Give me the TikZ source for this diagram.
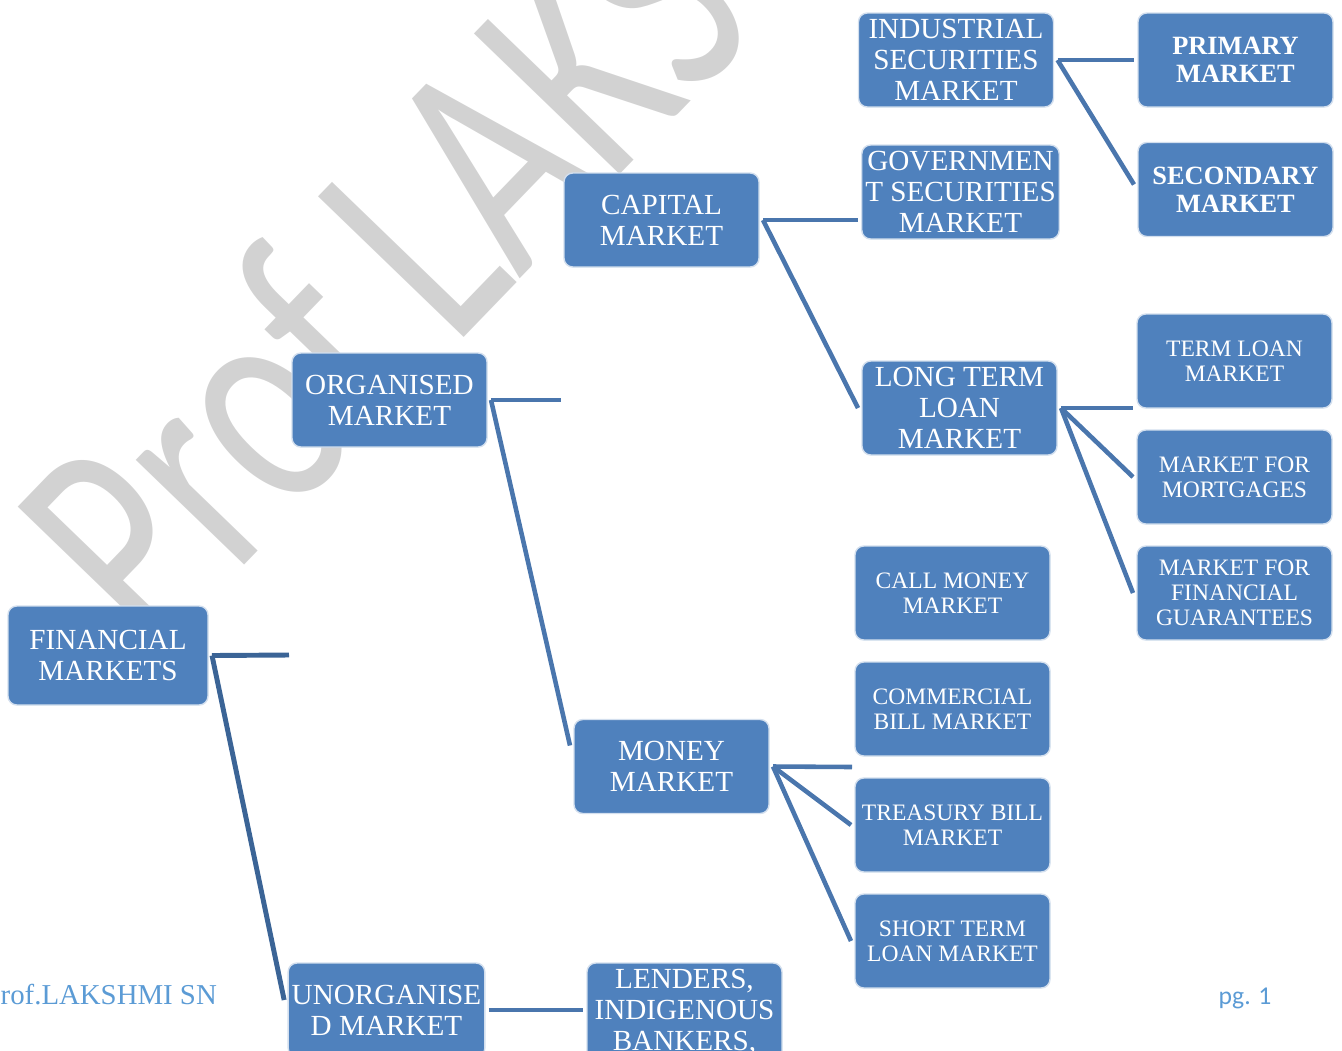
\documentclass[tikz,border=0pt]{standalone}
\usepackage{fontspec}
\setmainfont{Liberation Serif}
\newfontfamily\wmfont{Carlito}
\usepackage{xcolor}
\usepackage{graphicx}
\usepackage{tikz}
\usetikzlibrary{calc}

\definecolor{boxBlue}{HTML}{4F81BD}
\definecolor{lineBlue}{HTML}{4A76AD}
\definecolor{rootLine}{HTML}{3B6496}
\definecolor{footBlue}{HTML}{5B9BD5}

\begin{document}
\begin{tikzpicture}[
	box/.style={draw=white!75!boxBlue, line width=.4pt, fill=boxBlue, rounded corners=2.5pt, text=white, align=center, minimum width=1.95cm, minimum height=.94cm, inner sep=1pt, outer sep=.04cm},
	bigTxt/.style={font=\fontsize{8.3}{8.8}\selectfont},
	smallTxt/.style={font=\fontsize{6.7}{7.1}\selectfont},
	boldTxt/.style={font=\bfseries\fontsize{7.5}{8.1}\selectfont},
	conn/.style={lineBlue, line width=1.3pt},
	rootConn/.style={rootLine, line width=1.4pt},
	wmark/.style={gray!35, font=\wmfont\fontsize{64.6}{64.6}\selectfont, inner sep=0pt},
	foot/.style={anchor=base west, text=footBlue, inner sep=0pt}
	]
	
	\useasboundingbox (0,0) rectangle (13.42,-10.5);
	\clip (0,0) rectangle (13.42,-10.5);
	
	% Watermark
	\node[wmark, rotate=46, anchor=base west] (wm) at (1.52,-6.60) {\scalebox{1}[1.39]{Prof LAKS}};
	
	% Level 1 and 2
	\node[box, bigTxt, minimum width=2cm, minimum height=.99cm] (FM) at (1.08,-6.555) {FINANCIAL\\MARKETS};
	\node[box, bigTxt] (ORG) at (3.895,-4.0) {ORGANISED\\MARKET};
	\node[box, bigTxt] (UNORG) at (3.865,-10.1) {UNORGANISE\\D MARKET};
	\node[box, bigTxt] (CAP) at (6.615,-2.2) {CAPITAL\\MARKET};
	\node[box, bigTxt] (MON) at (6.715,-7.665) {MONEY\\MARKET};
	\node[box, bigTxt, minimum height=.98cm] (LEND) at (6.845,-10.12) {LENDERS,\\INDIGENOUS\\BANKERS,};
	
	% Capital market
	\node[box, bigTxt] (IND) at (9.56,-0.6) {INDUSTRIAL\\SECURITIES\\MARKET};
	\node[box, bigTxt] (GOV) at (9.605,-1.92) {GOVERNMEN\\T SECURITIES\\MARKET};
	\node[box, bigTxt] (LTL) at (9.595,-4.08) {LONG TERM\\LOAN\\MARKET};
	\node[box, boldTxt] (PRI) at (12.355,-0.6) {PRIMARY\\MARKET};
	\node[box, boldTxt] (SEC) at (12.355,-1.895) {SECONDARY\\MARKET};
	\node[box, smallTxt] (TLM) at (12.345,-3.61) {TERM LOAN\\MARKET};
	\node[box, smallTxt] (MFM) at (12.345,-4.77) {MARKET FOR\\MORTGAGES};
	\node[box, smallTxt] (MFG) at (12.345,-5.93) {MARKET FOR\\FINANCIAL\\GUARANTEES};
	
	% Money market
	\node[box, smallTxt] (CALL) at (9.525,-5.93) {CALL MONEY\\MARKET};
	\node[box, smallTxt] (CBM) at (9.525,-7.09) {COMMERCIAL\\BILL MARKET};
	\node[box, smallTxt] (TBM) at (9.525,-8.25) {TREASURY BILL\\MARKET};
	\node[box, smallTxt] (STL) at (9.525,-9.41) {SHORT TERM\\LOAN MARKET};
	
	\coordinate (fmStub) at (2.89,-6.55);
	\coordinate (orgStub) at (5.61,-4.0);
	\coordinate (capStub) at (8.58,-2.2);
	\coordinate (ltlStub) at (11.33,-4.08);
	\coordinate (monStub) at (8.52,-7.67);
	
	\draw[rootConn] (FM.east) -- (fmStub);
	\draw[rootConn] (FM.east) -- ($(UNORG.west)+(0,.1)$);
	\draw[conn] (ORG.east) -- (orgStub);
	\draw[conn] (ORG.east) -- ($(MON.west)+(0,.21)$);
	\draw[conn] (UNORG.east) -- (UNORG.east -| LEND.west);
	\draw[conn] (CAP.east) -- (capStub);
	\draw[conn] (CAP.east) -- (LTL.west);
	\draw[conn] (IND.east) -- (PRI.west);
	\draw[conn] (IND.east) -- ($(SEC.west)+(0,.05)$);
	\draw[conn] (LTL.east) -- (ltlStub);
	\draw[conn] (LTL.east) -- (MFM.west);
	\draw[conn] (LTL.east) -- (MFG.west);
	\draw[conn] (MON.east) -- (monStub);
	\draw[conn] (MON.east) -- (TBM.west);
	\draw[conn] (MON.east) -- (STL.west);
	
	% Footer
	\node[foot, font=\fontsize{8.2}{9}\selectfont] (author) at (0,-10.04) {rof.LAKSHMI SN};
	\node[foot, font=\wmfont\fontsize{7.3}{9}\selectfont] (page) at (12.18,-10.04) {pg. 1};
\end{tikzpicture}
\end{document}
